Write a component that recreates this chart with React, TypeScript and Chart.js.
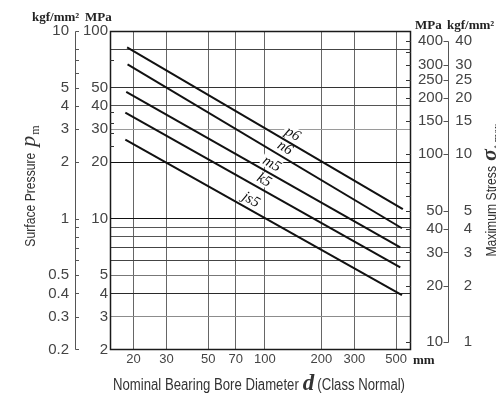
import React, { useEffect, useRef } from "react";
import { Chart, registerables } from "chart.js";

Chart.register(...registerables);

// ---------------- data ----------------
const seriesNames = ["p6", "n6", "m5", "k5", "js5"];
const seriesStartD = [18.5, 18.6, 18.3, 18.1, 18.1];
const seriesEndD = [543, 537, 526, 526, 537];
const seriesStartP = [81.7, 66.5, 47.4, 36.8, 26.4];
const seriesEndP = [11.26, 8.9, 7.04, 5.51, 3.92];
const seriesLabelD = [133, 121, 103, 94, 80];

const xTickValues = [20, 30, 50, 70, 100, 200, 300, 500];
const leftMpaLabels = [2, 3, 4, 5, 10, 20, 30, 40, 50, 100];
const leftMpaGridValues = [3, 4, 5, 6, 7, 8, 9, 10, 20, 30, 40, 50, 80];
const leftMpaMinorTicks = [70, 37, 32.5, 28.5, 24.5];
const leftKgfLabels = [0.2, 0.3, 0.4, 0.5, 1, 2, 3, 4, 5, 10];
const leftKgfTickValues = [0.2, 0.3, 0.4, 0.5, 0.6, 0.7, 0.8, 0.9, 1, 2, 3, 4, 5, 6, 7, 8, 10];
const rightMpaLabels = [10, 20, 30, 40, 50, 100, 150, 200, 250, 300, 400];
const rightMpaTickValues = [10, 20, 30, 40, 50, 60, 70, 80, 100, 150, 200, 250, 300, 350, 400];
const rightKgfLabels = [1, 2, 3, 4, 5, 10, 15, 20, 25, 30, 40];

const xRange = [15, 600];
const leftMpaRange = [2, 100];
const leftKgfRange = [0.2, 10];
const rightMpaRange = [9.07, 453.5];
const rightKgfRange = [0.907, 45.35];

// ---------------- styles ----------------
const gridShade: Record<string, string> = {
  "3": "#8c8c8c",
  "4": "#2a2a2a",
  "5": "#777",
  "6": "#444",
  "7": "#444",
  "8": "#555",
  "9": "#555",
  "10": "#111",
  "20": "#111",
  "30": "#9a9a9a",
  "40": "#555",
  "50": "#333",
  "80": "#444",
};

const SANS = "'Liberation Sans', Arial, sans-serif";
const NARROW = "'Liberation Sans Narrow', 'Liberation Sans', Arial, sans-serif";
const SERIF = "'Liberation Serif', 'Times New Roman', serif";
const TICK_COLOR = "#444";

type Seg = { text: string; font: string; dy?: number; gap?: number; fit?: boolean };

function segWidths(ctx: CanvasRenderingContext2D, segs: Seg[], sx: number) {
  return segs.map((s) => {
    ctx.font = s.font;
    return ctx.measureText(s.text).width * (s.fit ? sx : 1);
  });
}

function drawRich(ctx: CanvasRenderingContext2D, segs: Seg[], sx: number, cx: number) {
  const widths = segWidths(ctx, segs, sx);
  const total = widths.reduce((a, b) => a + b, 0) + segs.reduce((a, s) => a + (s.gap || 0), 0);
  let x = cx - total / 2;
  segs.forEach((s, i) => {
    x += s.gap || 0;
    ctx.save();
    ctx.font = s.font;
    ctx.textAlign = "left";
    ctx.textBaseline = "alphabetic";
    ctx.translate(x, s.dy || 0);
    if (s.fit) ctx.scale(sx, 1);
    ctx.fillText(s.text, 0, 0);
    ctx.restore();
    x += widths[i];
  });
}

const uniqSorted = (a: number[]) => Array.from(new Set(a)).sort((p, q) => p - q);

const decorPlugin = {
  id: "decor",
  beforeDatasetsDraw(chart: any) {
    const { ctx, scales } = chart;
    const xs = scales.x;
    const ys = scales.yL;
    seriesNames.forEach((name, i) => {
      const lx0 = Math.log10(seriesStartD[i]);
      const lx1 = Math.log10(seriesEndD[i]);
      const ly0 = Math.log10(seriesStartP[i]);
      const ly1 = Math.log10(seriesEndP[i]);
      const t = (Math.log10(seriesLabelD[i]) - lx0) / (lx1 - lx0);
      const pv = Math.pow(10, ly0 + t * (ly1 - ly0));
      const px = xs.getPixelForValue(seriesLabelD[i]);
      const py = ys.getPixelForValue(pv);
      const ang = Math.atan2(
        ys.getPixelForValue(seriesEndP[i]) - ys.getPixelForValue(seriesStartP[i]),
        xs.getPixelForValue(seriesEndD[i]) - xs.getPixelForValue(seriesStartD[i])
      );
      const off = 9;
      const cx = px + off * Math.sin(ang);
      const cy = py - off * Math.cos(ang);
      ctx.save();
      ctx.translate(cx, cy);
      ctx.rotate(ang);
      ctx.font = `italic 15px ${SERIF}`;
      const w = ctx.measureText(name).width;
      ctx.fillStyle = "#fff";
      ctx.fillRect(-w / 2 - 2, -7, w + 4, 13);
      ctx.fillStyle = "#111";
      ctx.textAlign = "center";
      ctx.textBaseline = "middle";
      ctx.fillText(name, 0, 0);
      ctx.restore();
    });
  },
  afterDatasetsDraw(chart: any) {
    const { ctx, chartArea: a, scales } = chart;
    const yL = scales.yL;
    const yR = scales.yR;
    const yLK = scales.yLK;
    const yRK = scales.yRK;
    ctx.save();
    // plot frame
    ctx.strokeStyle = "#1a1a1a";
    ctx.lineWidth = 1.5;
    ctx.strokeRect(a.left + 0.5, a.top + 0.5, a.right - a.left - 1, a.bottom - a.top - 1);

    // inward minor ticks
    ctx.lineWidth = 1;
    ctx.strokeStyle = "#333";
    ctx.beginPath();
    leftMpaMinorTicks.forEach((v) => {
      const y = Math.round(yL.getPixelForValue(v)) + 0.5;
      ctx.moveTo(a.left, y);
      ctx.lineTo(a.left + 4, y);
    });
    rightMpaTickValues.forEach((v) => {
      const y = Math.round(yR.getPixelForValue(v)) + 0.5;
      ctx.moveTo(a.right - 5, y);
      ctx.lineTo(a.right, y);
    });
    ctx.stroke();

    // brackets
    ctx.strokeStyle = "#555";
    ctx.beginPath();
    const bx = Math.round(yLK.right) - 0.5;
    ctx.moveTo(bx, Math.round(yLK.getPixelForValue(leftKgfRange[1])) + 0.5);
    ctx.lineTo(bx, Math.round(yLK.getPixelForValue(leftKgfRange[0])) - 0.5);
    leftKgfTickValues.forEach((v) => {
      const y = Math.round(yLK.getPixelForValue(v)) + (v === leftKgfRange[0] ? -0.5 : 0.5);
      ctx.moveTo(bx, y);
      ctx.lineTo(bx + 3.5, y);
    });
    const rx = Math.round(yRK.left) + 5.5;
    const rTop = Math.round(yRK.getPixelForValue(rightKgfLabels[rightKgfLabels.length - 1])) + 0.5;
    const rBot = Math.round(yRK.getPixelForValue(rightKgfLabels[0])) + 0.5;
    ctx.moveTo(rx, rTop);
    ctx.lineTo(rx, rBot);
    rightKgfLabels.forEach((v) => {
      const y = Math.round(yRK.getPixelForValue(v)) + 0.5;
      ctx.moveTo(rx, y);
      ctx.lineTo(rx - 5, y);
    });
    ctx.stroke();
    ctx.restore();

    // ---------- texts ----------
    ctx.save();
    ctx.fillStyle = "#333";
    ctx.font = `14px ${NARROW}`;
    const sxV = 94 / ctx.measureText("Surface Pressure").width;

    // left title
    ctx.save();
    ctx.translate(35, 186);
    ctx.rotate(-Math.PI / 2);
    drawRich(
      ctx,
      [
        { text: "Surface Pressure", font: `14px ${NARROW}`, fit: true },
        { text: "p", font: `italic 22px ${SERIF}`, gap: 6 },
        { text: "m", font: `12px ${SERIF}`, dy: 4, gap: 1 },
      ],
      sxV,
      0
    );
    ctx.restore();

    // right title
    ctx.save();
    ctx.translate(496, 190);
    ctx.rotate(-Math.PI / 2);
    drawRich(
      ctx,
      [
        { text: "Maximum Stress", font: `14px ${NARROW}`, fit: true },
        { text: "σ", font: `bold italic 22px ${SERIF}`, gap: 5 },
        { text: "t max", font: `11px ${SERIF}`, dy: 4, gap: 1 },
      ],
      sxV,
      0
    );
    ctx.restore();

    // bottom title
    const bSegs: Seg[] = [
      { text: "Nominal Bearing Bore Diameter", font: `16px ${NARROW}`, fit: true },
      { text: "d", font: `bold italic 23px ${SERIF}`, gap: 4 },
      { text: "(Class Normal)", font: `16px ${NARROW}`, fit: true, gap: 3 },
    ];
    const raw = segWidths(ctx, bSegs, 1);
    const sxH = (292 - raw[1] - 7) / (raw[0] + raw[2]);
    ctx.save();
    ctx.translate(0, 390);
    drawRich(ctx, bSegs, sxH, 259);
    ctx.restore();

    // unit labels
    ctx.fillStyle = "#222";
    ctx.font = `bold 13px ${SERIF}`;
    ctx.textAlign = "left";
    ctx.textBaseline = "alphabetic";
    ctx.fillText("kgf/mm²", 32, 21);
    ctx.fillText("MPa", 85, 21);
    ctx.fillText("MPa", 415, 29);
    ctx.fillText("kgf/mm²", 447, 29);
    ctx.fillText("mm", 413, 364);
    ctx.restore();
  },
};

export default function App() {
  const canvasRef = useRef<HTMLCanvasElement | null>(null);

  useEffect(() => {
    document.body.style.margin = "0";
    const canvas = canvasRef.current;
    if (!canvas) return;

    const datasets = seriesNames.map((name, i) => ({
      label: name,
      data: [
        { x: seriesStartD[i], y: seriesStartP[i] },
        { x: seriesEndD[i], y: seriesEndP[i] },
      ],
      borderColor: "#111",
      borderWidth: 2,
      borderCapStyle: "butt" as const,
      pointRadius: 0,
      fill: false,
      xAxisID: "x",
      yAxisID: "yL",
    }));

    const tickFont = { family: SANS, size: 15 };

    const chart = new Chart(canvas, {
      type: "line",
      data: { datasets },
      plugins: [decorPlugin],
      options: {
        animation: false,
        responsive: false,
        devicePixelRatio: 1,
        layout: { padding: { top: 31, left: 0, right: 24, bottom: 0 } },
        plugins: { legend: { display: false }, tooltip: { enabled: false } },
        scales: {
          x: {
            type: "logarithmic",
            position: "bottom",
            min: xRange[0],
            max: xRange[1],
            afterBuildTicks: (s: any) => {
              s.ticks = xTickValues.map((v) => ({ value: v }));
            },
            afterFit: (s: any) => {
              s.height = 43;
            },
            ticks: {
              autoSkip: false,
              maxRotation: 0,
              padding: 2,
              color: TICK_COLOR,
              font: { family: SANS, size: 13 },
              callback: (v: any) => String(v),
            },
            grid: { color: "#666", lineWidth: 1, drawTicks: false },
            border: { display: false },
          },
          yL: {
            type: "logarithmic",
            position: "left",
            weight: 0,
            min: leftMpaRange[0],
            max: leftMpaRange[1],
            afterBuildTicks: (s: any) => {
              s.ticks = uniqSorted([...leftMpaLabels, ...leftMpaGridValues]).map((v) => ({ value: v }));
            },
            afterFit: (s: any) => {
              s.width = 34;
            },
            ticks: {
              autoSkip: false,
              padding: 2,
              color: TICK_COLOR,
              font: tickFont,
              callback: (v: any) => (leftMpaLabels.includes(Number(v)) ? String(v) : ""),
            },
            grid: {
              drawTicks: false,
              lineWidth: 1,
              color: (c: any) => gridShade[String(c.tick && c.tick.value)] || "rgba(0,0,0,0)",
            },
            border: { display: false },
          },
          yLK: {
            type: "logarithmic",
            position: "left",
            weight: 1,
            min: leftKgfRange[0],
            max: leftKgfRange[1],
            afterBuildTicks: (s: any) => {
              s.ticks = leftKgfLabels.map((v) => ({ value: v }));
            },
            afterFit: (s: any) => {
              s.width = 76;
            },
            ticks: {
              autoSkip: false,
              padding: 7,
              color: TICK_COLOR,
              font: tickFont,
              callback: (v: any) => String(v),
            },
            grid: { display: false, drawTicks: false },
            border: { display: false },
          },
          yR: {
            type: "logarithmic",
            position: "right",
            weight: 0,
            min: rightMpaRange[0],
            max: rightMpaRange[1],
            afterBuildTicks: (s: any) => {
              s.ticks = rightMpaLabels.map((v) => ({ value: v }));
            },
            afterFit: (s: any) => {
              s.width = 32;
            },
            ticks: {
              autoSkip: false,
              padding: 0,
              crossAlign: "far",
              color: TICK_COLOR,
              font: tickFont,
              callback: (v: any) => String(v),
            },
            grid: { display: false, drawTicks: false },
            border: { display: false },
          },
          yRK: {
            type: "logarithmic",
            position: "right",
            weight: 1,
            min: rightKgfRange[0],
            max: rightKgfRange[1],
            afterBuildTicks: (s: any) => {
              s.ticks = rightKgfLabels.map((v) => ({ value: v }));
            },
            afterFit: (s: any) => {
              s.width = 29;
            },
            ticks: {
              autoSkip: false,
              padding: 0,
              crossAlign: "far",
              color: TICK_COLOR,
              font: tickFont,
              callback: (v: any) => String(v),
            },
            grid: { display: false, drawTicks: false },
            border: { display: false },
          },
        },
      } as any,
    });

    return () => {
      chart.destroy();
    };
  }, []);

  return (
    <canvas
      ref={canvasRef}
      width={496}
      height={393}
      style={{ display: "block", width: "496px", height: "393px" }}
    />
  );
}
